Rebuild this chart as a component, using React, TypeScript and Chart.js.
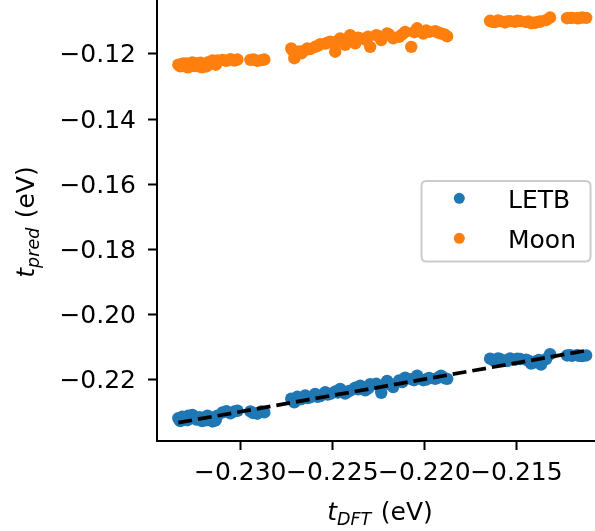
import React, { useEffect, useRef } from "react";
import { Chart, registerables } from "chart.js";

Chart.register(...registerables);

// t_DFT values (x), shared by both series
const tDft = [
  -0.23336, -0.23325, -0.23314, -0.23303, -0.23292, -0.23282, -0.23271, -0.2326, -0.23249, -0.23238,
  -0.23227, -0.23216, -0.23206, -0.23195, -0.23184, -0.23173, -0.23162, -0.23151, -0.2314, -0.23124,
  -0.23096, -0.23075, -0.23053, -0.23031, -0.23015,
  -0.22945, -0.22929, -0.22907, -0.22885, -0.22869,
  -0.22723, -0.22706, -0.2269, -0.22668, -0.22647, -0.2262, -0.22593, -0.22565, -0.22538, -0.22511,
  -0.22484, -0.22457, -0.2243, -0.22403, -0.22375, -0.22348, -0.22321, -0.22294, -0.22261, -0.22234,
  -0.22202, -0.22169, -0.22137, -0.22104, -0.22071, -0.22039, -0.22006, -0.21974, -0.21941, -0.21909,
  -0.21876,
  -0.21643, -0.21616, -0.21589, -0.21562, -0.21534, -0.21507, -0.2148,
  -0.21447, -0.2142, -0.21393, -0.21366, -0.21338, -0.21317,
  -0.21225, -0.21198, -0.21171, -0.21143, -0.21121,
  -0.2333, -0.23308, -0.23287, -0.23265, -0.23243, -0.23221, -0.232, -0.23178, -0.23156, -0.23132,
  -0.22715, -0.2268, -0.22635, -0.2258, -0.22525, -0.2247, -0.22415, -0.2236, -0.22305, -0.2225,
  -0.2219, -0.2212, -0.22055, -0.2199, -0.21925, -0.2189,
  -0.2163, -0.216, -0.2155, -0.21495,
  -0.21435, -0.21405, -0.21378,
  -0.2121, -0.2116,
];

// predicted t, LETB model
const tLetb = [
  -0.232, -0.2329, -0.2315, -0.2323, -0.2317, -0.2312, -0.232, -0.231, -0.2315, -0.2324,
  -0.2321, -0.2326, -0.2329, -0.232, -0.2326, -0.2315, -0.2323, -0.233, -0.2328, -0.2312,
  -0.2302, -0.2298, -0.2305, -0.2299, -0.2297,
  -0.2299, -0.2304, -0.2306, -0.2299, -0.2302,
  -0.226, -0.2271, -0.2254, -0.2261, -0.225, -0.2256, -0.2245, -0.2252, -0.224, -0.2245,
  -0.2238, -0.223, -0.2244, -0.2235, -0.2226, -0.222, -0.2234, -0.2215, -0.2214, -0.2242,
  -0.2205, -0.2224, -0.2204, -0.2195, -0.22, -0.2189, -0.2203, -0.2196, -0.2199, -0.2189,
  -0.2199,
  -0.2137, -0.2145, -0.2138, -0.2142, -0.2136, -0.214, -0.2138,
  -0.214, -0.2152, -0.2145, -0.2155, -0.2138, -0.2123,
  -0.2127, -0.2128, -0.2126, -0.2129, -0.2127,
  -0.2324, -0.2318, -0.2326, -0.2313, -0.2321, -0.2317, -0.2323, -0.2312, -0.2319, -0.2325,
  -0.2265, -0.2262, -0.2258, -0.2254, -0.2247, -0.2241, -0.2238, -0.2231, -0.2228, -0.2219,
  -0.2216, -0.2209, -0.2203, -0.2201, -0.2195, -0.2197,
  -0.214, -0.2136, -0.2144, -0.2137,
  -0.2143, -0.2149, -0.2141,
  -0.2126, -0.2128,
];

// predicted t, Moon model
const tMoon = [
  -0.1233, -0.1238, -0.123, -0.1235, -0.1229, -0.124, -0.1232, -0.1226, -0.1237, -0.123,
  -0.1235, -0.1227, -0.1241, -0.1232, -0.1238, -0.1225, -0.123, -0.122, -0.1226, -0.122,
  -0.1218, -0.1221, -0.1216, -0.122, -0.1217,
  -0.1218, -0.1217, -0.1221, -0.1219, -0.1217,
  -0.1183, -0.1213, -0.1195, -0.1198, -0.1188, -0.1185, -0.1178, -0.117, -0.1168, -0.1162,
  -0.1193, -0.1152, -0.1172, -0.1142, -0.1167, -0.1152, -0.1156, -0.1178, -0.1142, -0.1157,
  -0.1137, -0.1152, -0.1147, -0.1132, -0.1178, -0.1121, -0.1137, -0.1132, -0.113, -0.1137,
  -0.1146,
  -0.1098, -0.1102, -0.1099, -0.1103, -0.1099, -0.1101, -0.1099,
  -0.1102, -0.1105, -0.1103, -0.11, -0.1096, -0.1088,
  -0.109, -0.1089, -0.109, -0.1088, -0.1089,
  -0.1236, -0.123, -0.1241, -0.1234, -0.1228, -0.1239, -0.1231, -0.1236, -0.1224, -0.1233,
  -0.119, -0.1192, -0.1183, -0.1175, -0.1165, -0.116, -0.1158, -0.115, -0.1147, -0.1145,
  -0.1141, -0.114, -0.1133, -0.1128, -0.1134, -0.114,
  -0.1101, -0.1097, -0.11, -0.1098,
  -0.11, -0.1104, -0.1101,
  -0.1089, -0.109,
];

const seriesNames = ["LETB", "Moon"];
const seriesColors = ["#1f77b4", "#ff7f0e"];

const xTicks = [-0.23, -0.225, -0.22, -0.215];
const yTicks = [-0.22, -0.2, -0.18, -0.16, -0.14, -0.12];
const xLimits = [-0.23452, -0.21073];
const yLimits = [-0.239, -0.1034];

const xLabelParts = ["t", "DFT", " (eV)"];
const yLabelParts = ["t", "pred", " (eV)"];

const FAMILY = "'DejaVu Sans', sans-serif";
const FS = 25;

const fmt = (v: number, d: number) => v.toFixed(d).replace("-", "\u2212");

function drawMath(ctx: CanvasRenderingContext2D, parts: string[], cx: number, baseline: number) {
  const segs = [
    { t: parts[0], f: `italic ${FS}px ${FAMILY}`, dy: 0 },
    { t: parts[1], f: `italic ${FS * 0.7}px ${FAMILY}`, dy: 5 },
    { t: parts[2], f: `${FS}px ${FAMILY}`, dy: 0 },
  ];
  let total = 0;
  const widths = segs.map((s) => {
    ctx.font = s.f;
    const w = ctx.measureText(s.t).width;
    total += w;
    return w;
  });
  total += 1.5;
  let x = cx - total / 2;
  ctx.textAlign = "left";
  ctx.textBaseline = "alphabetic";
  segs.forEach((s, i) => {
    ctx.font = s.f;
    ctx.fillText(s.t, x, baseline + s.dy);
    x += widths[i] + (i === 1 ? 1.5 : 0);
  });
}

const decorPlugin = {
  id: "decor",
  afterDraw(chart: any) {
    const ctx: CanvasRenderingContext2D = chart.ctx;
    ctx.save();
    ctx.fillStyle = "#000";
    // x title
    drawMath(ctx, xLabelParts, 380, 519.5);
    // y title
    ctx.save();
    ctx.translate(34, 222);
    ctx.rotate(-Math.PI / 2);
    drawMath(ctx, yLabelParts, 0, 0);
    ctx.restore();

    // legend
    const bx = 421.5, by = 181, bw = 169, bh = 80.5, r = 5;
    ctx.beginPath();
    ctx.moveTo(bx + r, by);
    ctx.lineTo(bx + bw - r, by);
    ctx.quadraticCurveTo(bx + bw, by, bx + bw, by + r);
    ctx.lineTo(bx + bw, by + bh - r);
    ctx.quadraticCurveTo(bx + bw, by + bh, bx + bw - r, by + bh);
    ctx.lineTo(bx + r, by + bh);
    ctx.quadraticCurveTo(bx, by + bh, bx, by + bh - r);
    ctx.lineTo(bx, by + r);
    ctx.quadraticCurveTo(bx, by, bx + r, by);
    ctx.closePath();
    ctx.fillStyle = "rgba(255,255,255,0.8)";
    ctx.fill();
    ctx.strokeStyle = "#cccccc";
    ctx.lineWidth = 2;
    ctx.stroke();

    const rows = [198.3, 238.3];
    seriesNames.forEach((name, i) => {
      ctx.beginPath();
      ctx.arc(459.3, rows[i], 5.5, 0, Math.PI * 2);
      ctx.fillStyle = seriesColors[i];
      ctx.fill();
      ctx.fillStyle = "#000";
      ctx.font = `${FS}px ${FAMILY}`;
      ctx.textAlign = "left";
      ctx.textBaseline = "alphabetic";
      ctx.fillText(name, 508, rows[i] + 10);
    });
    ctx.restore();
  },
};

export default function App() {
  const ref = useRef<HTMLCanvasElement | null>(null);

  useEffect(() => {
    if (!ref.current) return;
    const lo = Math.min(...tDft);
    const hi = Math.max(...tDft);
    const tickFont = { family: FAMILY, size: FS };
    const chart = new Chart(ref.current, {
      type: "scatter",
      data: {
        datasets: [
          {
            type: "line",
            label: "ideal",
            data: [
              { x: lo, y: lo },
              { x: hi, y: hi },
            ],
            borderColor: "#000",
            borderWidth: 3.75,
            borderDash: [13.9, 6],
            pointRadius: 0,
            fill: false,
            order: 0,
          } as any,
          {
            label: seriesNames[0],
            data: tDft.map((x, i) => ({ x, y: tLetb[i] })),
            backgroundColor: seriesColors[0],
            borderColor: seriesColors[0],
            pointRadius: 6.2,
            pointBorderWidth: 0,
            order: 1,
          },
          {
            label: seriesNames[1],
            data: tDft.map((x, i) => ({ x, y: tMoon[i] })),
            backgroundColor: seriesColors[1],
            borderColor: seriesColors[1],
            pointRadius: 6.2,
            pointBorderWidth: 0,
            order: 2,
          },
        ],
      },
      options: {
        animation: false,
        responsive: false,
        maintainAspectRatio: false,
        devicePixelRatio: 1,
        layout: { padding: 0, autoPadding: false },
        plugins: { legend: { display: false }, tooltip: { enabled: false } },
        scales: {
          x: {
            type: "linear",
            min: xLimits[0],
            max: xLimits[1],
            afterBuildTicks: (s: any) => {
              s.ticks = xTicks.map((v) => ({ value: v }));
            },
            afterFit: (s: any) => {
              s.height = 90;
              s.paddingLeft = 0;
              s.paddingRight = 0;
              s.paddingTop = 0;
              s.paddingBottom = 0;
            },
            ticks: {
              callback: (v: any) => fmt(Number(v), 3),
              font: tickFont,
              color: "#000",
              padding: 8,
              autoSkip: false,
              maxRotation: 0,
              minRotation: 0,
            },
            grid: {
              display: true,
              drawOnChartArea: false,
              drawTicks: true,
              tickLength: 9,
              tickWidth: 2,
              tickColor: "#000",
            },
            border: { display: true, color: "#000", width: 2 },
          },
          y: {
            type: "linear",
            min: yLimits[0],
            max: yLimits[1],
            afterBuildTicks: (s: any) => {
              s.ticks = yTicks.map((v) => ({ value: v }));
            },
            afterFit: (s: any) => {
              s.width = 157;
              s.paddingLeft = 0;
              s.paddingRight = 0;
              s.paddingTop = 0;
              s.paddingBottom = 0;
            },
            ticks: {
              callback: (v: any) => fmt(Number(v), 2),
              font: tickFont,
              color: "#000",
              padding: 12,
              labelOffset: 2,
              autoSkip: false,
            },
            grid: {
              display: true,
              drawOnChartArea: false,
              drawTicks: true,
              tickLength: 9,
              tickWidth: 2,
              tickColor: "#000",
            },
            border: { display: true, color: "#000", width: 2 },
          },
        },
      },
      plugins: [decorPlugin],
    });
    return () => chart.destroy();
  }, []);

  return (
    <div style={{ position: "absolute", left: 0, top: 0, width: 595, height: 531, background: "#fff" }}>
      <canvas ref={ref} width={595} height={531} style={{ display: "block", width: 595, height: 531 }} />
    </div>
  );
}
